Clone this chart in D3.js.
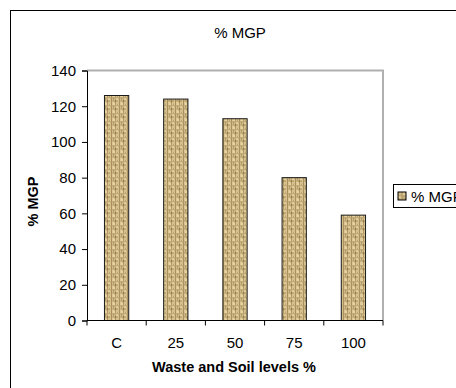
<!DOCTYPE html>
<html lang="en">
<head>
<meta charset="utf-8">
<script src="https://d3js.org/d3.v7.min.js"></script>
<title>% MGP</title>
<style>
    body { margin: 0; background: #fff; }
    text { font-family: Arial, "Liberation Sans", sans-serif; fill: #000; }
</style>
</head>
<body>
<div id="chart"></div>
<script>
const categories = ["C", "25", "50", "75", "100"];
const mgpValues = [126, 124, 113, 80, 59];
const yTicks = [0, 20, 40, 60, 80, 100, 120, 140];
const seriesName = "% MGP";

const W = 456, H = 388;
const margin = {top: 70.5, right: 73, bottom: 67.5, left: 87};
const width = W - margin.left - margin.right;
const height = H - margin.top - margin.bottom;

const svg = d3.select("#chart").append("svg")
    .attr("width", W)
    .attr("height", H);

// burlap-like texture for bars
const defs = svg.append("defs");
const pat = defs.append("pattern")
    .attr("id", "burlap")
    .attr("patternUnits", "userSpaceOnUse")
    .attr("width", 8).attr("height", 8);
pat.append("rect").attr("width", 8).attr("height", 8).attr("fill", "#d8c38f");
const weave = [
    [0, 0, 1, 8, "#a88e5a"], [4, 0, 1, 3, "#b39a66"], [4, 5, 1, 3, "#8f7646"],
    [0, 3, 8, 1, "#b59c68"], [1, 6, 6, 1, "#a48a56"], [6, 1, 1, 4, "#c2aa76"],
    [2, 1, 2, 1, "#efdfb2"], [5, 4, 2, 1, "#f0e2b6"], [2, 4, 1, 1, "#9a8050"],
    [1, 7, 2, 1, "#e8d6a6"]
];
weave.forEach(w => pat.append("rect")
    .attr("x", w[0]).attr("y", w[1]).attr("width", w[2]).attr("height", w[3])
    .attr("fill", w[4]));

// outer chart border (left and top visible)
svg.append("rect")
    .attr("x", 10.5).attr("y", 10.5)
    .attr("width", W + 20).attr("height", H + 20)
    .attr("fill", "none").attr("stroke", "#000").attr("stroke-width", 1);

const g = svg.append("g").attr("transform", `translate(${margin.left},${margin.top})`);

const x = d3.scaleBand().domain(categories).range([0, width]).paddingInner(0.59).paddingOuter(0.295);
const xb = d3.scaleBand().domain(categories).range([0, width]);
const y = d3.scaleLinear().domain([0, 140]).range([height, 0]);

// plot area border (gray top and right)
g.append("path")
    .attr("d", `M0,0H${width}V${height}`)
    .attr("fill", "none").attr("stroke", "#b0b0b0").attr("stroke-width", 2);

g.selectAll("rect.bar")
    .data(mgpValues)
    .enter().append("rect")
    .attr("class", "bar")
    .attr("x", (d, i) => x(categories[i]))
    .attr("width", x.bandwidth())
    .attr("y", d => y(d))
    .attr("height", d => height - y(d))
    .attr("fill", "url(#burlap)")
    .attr("stroke", "#1a1a1a")
    .attr("stroke-width", 1);

// y axis
const yAxis = g.append("g")
    .call(d3.axisLeft(y).tickValues(yTicks).tickSize(5).tickPadding(6));
yAxis.select(".domain").attr("stroke", "#000");
yAxis.selectAll("text").style("font-size", "15px").attr("font-family", "Arial, 'Liberation Sans', sans-serif");

// x axis with ticks at band boundaries
const xAxis = g.append("g").attr("transform", `translate(0,${height})`);
xAxis.append("line").attr("x1", 0).attr("x2", width).attr("stroke", "#000");
xAxis.selectAll("line.tick")
    .data(categories.map(c => xb(c)).concat([width]))
    .enter().append("line")
    .attr("class", "tick")
    .attr("x1", d => d).attr("x2", d => d)
    .attr("y1", 0).attr("y2", 5)
    .attr("stroke", "#000");
xAxis.selectAll("text")
    .data(categories)
    .enter().append("text")
    .attr("x", d => xb(d) + xb.bandwidth() / 2)
    .attr("y", 27)
    .attr("text-anchor", "middle")
    .style("font-size", "15px")
    .text(d => d);

// titles
svg.append("text")
    .attr("x", 240).attr("y", 38)
    .attr("text-anchor", "middle")
    .style("font-size", "15px")
    .text(seriesName);

svg.append("text")
    .attr("x", 234).attr("y", 372)
    .attr("text-anchor", "middle")
    .style("font-size", "14.5px").style("font-weight", "bold")
    .text("Waste and Soil levels %");

svg.append("text")
    .attr("transform", `translate(38,${margin.top + height / 2 + 6}) rotate(-90)`)
    .attr("text-anchor", "middle")
    .style("font-size", "14.5px").style("font-weight", "bold")
    .text(seriesName);

// legend (clipped by the right edge, as in the original)
const leg = svg.append("g").attr("transform", "translate(393.5,184.5)");
leg.append("rect")
    .attr("width", 80).attr("height", 23)
    .attr("fill", "#fff").attr("stroke", "#000");
leg.append("rect")
    .attr("x", 4.5).attr("y", 7.5).attr("width", 8).attr("height", 8)
    .attr("fill", "url(#burlap)").attr("stroke", "#000");
leg.append("text")
    .attr("x", 17.5).attr("y", 17)
    .style("font-size", "15px")
    .text(seriesName);
</script>
</body>
</html>
